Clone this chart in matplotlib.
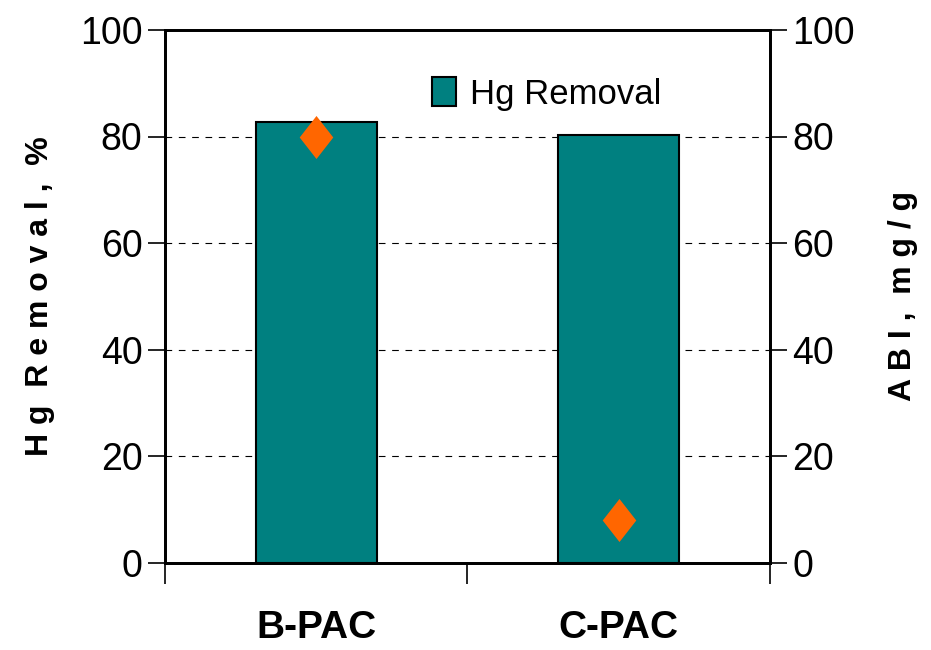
import matplotlib
matplotlib.use("Agg")
import matplotlib.pyplot as plt
from matplotlib.path import Path
import numpy as np

# data
categories = ["B-PAC", "C-PAC"]
hg_removal = [82.8, 80.2]   # %
abi = [80.0, 8.0]           # mg/g

plt.rcParams['font.family'] = ['Liberation Sans', 'DejaVu Sans']

fig = plt.figure(figsize=(9.31, 6.5), dpi=100)
ax = fig.add_axes([0.177, 0.134, 0.650, 0.820])
ax2 = ax.twinx()

x = np.arange(len(categories))
bars = ax.bar(x, hg_removal, width=0.4, color='#008080', edgecolor='black',
              linewidth=1.5, label='Hg Removal', zorder=3)

# stretched diamond marker
diamond = Path([(0, 1), (0.78, 0), (0, -1), (-0.78, 0), (0, 1)],
               [Path.MOVETO, Path.LINETO, Path.LINETO, Path.LINETO, Path.CLOSEPOLY])
ax2.plot(x, abi, linestyle='none', marker=diamond, markersize=31,
         color='#FF6600', markeredgewidth=0, zorder=4)

ax.set_xlim(-0.5, 1.5)
ax.set_ylim(0, 100)
ax2.set_ylim(0, 100)
ax.set_yticks(range(0, 101, 20))
ax2.set_yticks(range(0, 101, 20))

# category boundaries as x ticks, labels at centres
ax.set_xticks([-0.5, 0.5, 1.5])
ax.set_xticklabels([])
ax.set_xticks(x, minor=True)
ax.set_xticklabels(categories, minor=True, fontsize=28, fontweight='bold')
ax.tick_params(axis='x', which='major', length=15, width=1.2, direction='out')
ax.tick_params(axis='x', which='minor', length=0, pad=34)

ax.tick_params(axis='y', length=12, width=1.2, labelsize=27, pad=4)
ax2.tick_params(axis='y', length=12, width=1.2, labelsize=27, pad=4)

for a in (ax, ax2):
    for s in a.spines.values():
        s.set_linewidth(2)
        s.set_color('black')

for yv in [20, 40, 60, 80]:
    ax.axhline(yv, color='black', linestyle=(0, (6, 6)), linewidth=0.8, zorder=1)

ax.set_ylabel('H g  R e m o v a l ,  %', fontsize=23, fontweight='bold', labelpad=18)
ax2.set_ylabel('A B I ,  m g / g', fontsize=23, fontweight='bold', labelpad=24)

ax.legend(handles=[bars], loc='upper left', bbox_to_anchor=(0.39, 0.97),
          frameon=False, fontsize=25, handlelength=0.7, handleheight=0.9,
          handletextpad=0.4)

fig.savefig('out.png', dpi=100)
